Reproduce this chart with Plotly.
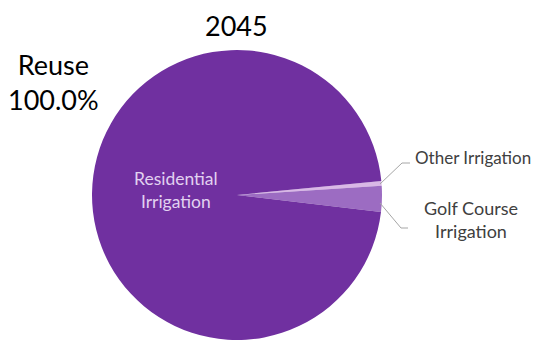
import plotly.graph_objects as go

# slices (share of reuse in 2045)
labels = ["Other Irrigation", "Golf Course Irrigation", "Residential Irrigation"]
values = [0.5, 2.9, 96.6]
colors = ["#D9B8E6", "#9C6CC2", "#7030A0"]

title = "2045"
side_note = "Reuse<br>100.0%"

W, H = 545, 341
OFF = 8  # page body margin
FONT = "Lato, Open Sans, sans-serif"


def px(x, y):
    # screen pixel -> paper
    return (x - OFF) / W, 1 - (y - OFF) / H


fig = go.Figure()
fig.add_trace(
    go.Pie(
        labels=labels,
        values=values,
        sort=False,
        direction="clockwise",
        rotation=84.5,
        marker=dict(colors=colors, line=dict(width=0)),
        textinfo="none",
        hoverinfo="label+percent",
        showlegend=False,
        domain=dict(x=[px(92, 0)[0], px(382, 0)[0]], y=[px(0, 340)[1], px(0, 50)[1]]),
    )
)

# leader lines
for pts in [[(380, 184), (402, 163), (410, 163)], [(380, 203), (401, 228), (408, 228)]]:
    p = [px(*q) for q in pts]
    path = "M {} {} L {} {} L {} {}".format(p[0][0], p[0][1], p[1][0], p[1][1], p[2][0], p[2][1])
    fig.add_shape(type="path", path=path, xref="paper", yref="paper",
                  line=dict(color="#A6A6A6", width=1))

notes = [
    (title, 236, 26, 27, "#000000"),
    (side_note, 53, 82, 27, "#000000"),
    ("Residential<br>Irrigation", 176, 190, 17.5, "#E2D2F0"),
    ("Other Irrigation", 473, 157, 17, "#404040"),
    ("Golf Course<br>Irrigation", 471, 219, 18, "#404040"),
]
for txt, x, y, size, col in notes:
    ax, ay = px(x, y)
    fig.add_annotation(text=txt, x=ax, y=ay, xref="paper", yref="paper",
                       showarrow=False, xanchor="center", yanchor="middle",
                       font=dict(family=FONT, size=size, color=col))

fig.update_layout(
    width=W,
    height=H,
    margin=dict(l=0, r=0, t=0, b=0),
    paper_bgcolor="white",
    plot_bgcolor="white",
    font=dict(family=FONT),
)

fig.write_html("out.html")
